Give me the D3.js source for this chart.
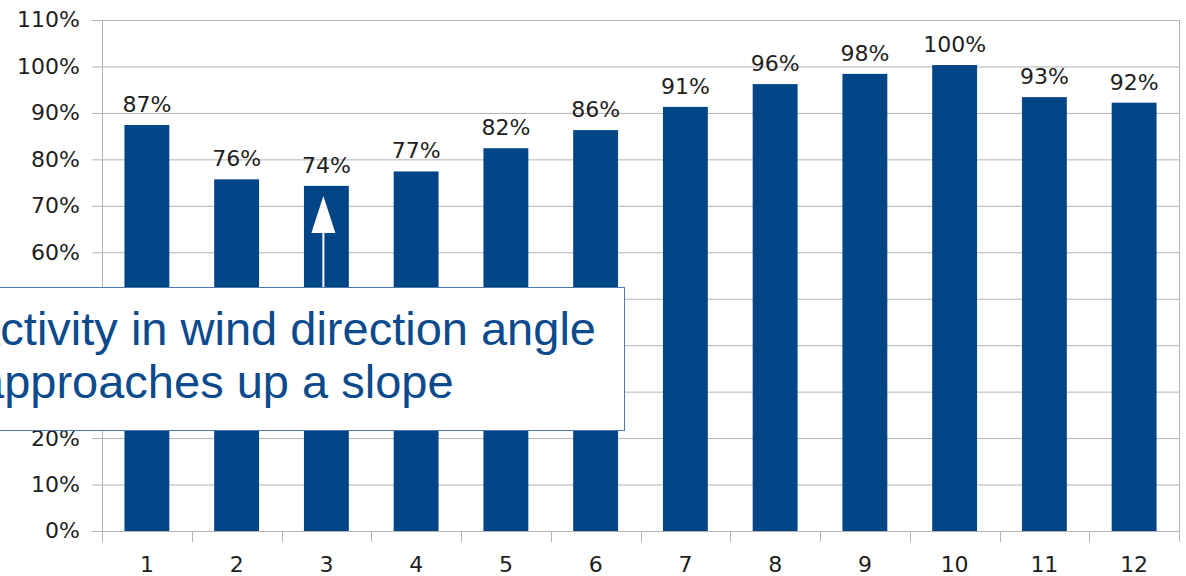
<!DOCTYPE html>
<html>
<head>
<meta charset="utf-8">
<script src="https://cdn.jsdelivr.net/npm/d3@7"></script>
<style>
  html, body { margin: 0; padding: 0; background: #fff; overflow: hidden; }
  svg { display: block; }
</style>
</head>
<body>
<svg id="chart" width="1186" height="576"></svg>
<script>
const categories = ["1","2","3","4","5","6","7","8","9","10","11","12"];
const values = [87.4, 75.7, 74.3, 77.4, 82.4, 86.3, 91.3, 96.2, 98.4, 100.3, 93.4, 92.2];
const yTicks = [0,10,20,30,40,50,60,70,80,90,100,110];
const annotationLines = ["Activity in wind direction angle", "approaches up a slope"];

const svg = d3.select("#chart");
const plotLeft = 102, plotRight = 1179, plotTop = 20, plotBottom = 531;

const x = d3.scaleBand().domain(categories).range([plotLeft, plotRight]).paddingInner(0.5).paddingOuter(0.25);
const y = d3.scaleLinear().domain([0, 110]).range([plotBottom, plotTop]);

const gridColor = "#b3b3b3";
const labelFont = "DejaVu Sans";
const labelSize = 22;
const labelColor = "#1e1e1e";

// horizontal gridlines + y ticks
svg.append("g").selectAll("line").data(yTicks).join("line")
  .attr("x1", plotLeft - 10).attr("x2", plotRight)
  .attr("y1", d => y(d) + 0.5).attr("y2", d => y(d) + 0.5)
  .attr("stroke", gridColor).attr("stroke-width", 1);

// right border + left axis
svg.append("line").attr("x1", plotRight + 0.5).attr("x2", plotRight + 0.5).attr("y1", plotTop).attr("y2", plotBottom)
  .attr("stroke", gridColor);
svg.append("line").attr("x1", plotLeft + 0.5).attr("x2", plotLeft + 0.5).attr("y1", plotTop).attr("y2", plotBottom)
  .attr("stroke", gridColor);

// y tick labels
svg.append("g").selectAll("text").data(yTicks).join("text")
  .attr("x", 80).attr("y", d => y(d)).attr("dy", "0.34em")
  .attr("text-anchor", "end")
  .attr("font-family", labelFont).attr("font-size", labelSize).attr("fill", labelColor)
  .text(d => d + "%");

// x ticks at band boundaries
const step = x.step();
const boundaries = categories.map(c => x(c) - step * x.paddingInner() / 2).concat([plotRight]);
svg.append("g").selectAll("line").data(boundaries).join("line")
  .attr("x1", d => Math.round(d) + 0.5).attr("x2", d => Math.round(d) + 0.5)
  .attr("y1", plotBottom).attr("y2", plotBottom + 11)
  .attr("stroke", gridColor);

// x labels
svg.append("g").selectAll("text").data(categories).join("text")
  .attr("x", d => x(d) + x.bandwidth() / 2).attr("y", 572)
  .attr("text-anchor", "middle")
  .attr("font-family", labelFont).attr("font-size", labelSize).attr("fill", labelColor)
  .text(d => d);

// bars
svg.append("g").selectAll("rect").data(values).join("rect")
  .attr("x", (d, i) => x(categories[i]))
  .attr("y", d => y(d))
  .attr("width", x.bandwidth())
  .attr("height", d => y(0) - y(d))
  .attr("fill", "#004586");

// value labels
svg.append("g").selectAll("text").data(values).join("text")
  .attr("x", (d, i) => x(categories[i]) + x.bandwidth() / 2)
  .attr("y", d => y(d) - 13)
  .attr("text-anchor", "middle")
  .attr("font-family", labelFont).attr("font-size", labelSize).attr("fill", labelColor)
  .text(d => Math.round(d) + "%");

// annotation box
const ann = svg.append("g");
ann.append("rect").attr("x", -60.5).attr("y", 287.5).attr("width", 685).attr("height", 143)
  .attr("fill", "#fff").attr("stroke", "#4a78b0").attr("stroke-width", 1);
ann.selectAll("text").data(annotationLines).join("text")
  .attr("x", (d, i) => i === 0 ? -31 : -22)
  .attr("y", (d, i) => 345 + i * 53)
  .attr("font-family", "Liberation Sans").attr("font-size", 47).attr("fill", "#0b4a8c")
  .text(d => d);

// arrow pointing at bar 3
const ax = x(categories[2]) + x.bandwidth() / 2 - 3;
ann.append("line").attr("x1", ax).attr("x2", ax).attr("y1", 287).attr("y2", 232)
  .attr("stroke", "#fff").attr("stroke-width", 2);
ann.append("polygon")
  .attr("points", [[ax - 12, 233], [ax + 12, 233], [ax, 196]].map(p => p.join(",")).join(" "))
  .attr("fill", "#fff");
</script>
</body>
</html>
